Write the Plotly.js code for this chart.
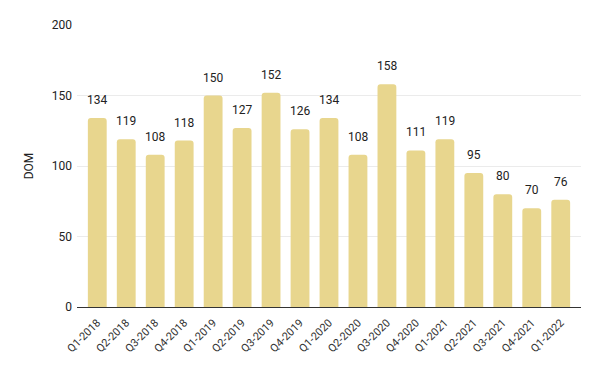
<!DOCTYPE html>
<html>
<head>
<meta charset="utf-8">
<script src="https://cdn.plot.ly/plotly-3.0.1.min.js"></script>
<style>html,body{margin:0;padding:0;background:#fff;}#chart{width:600px;height:371px;}</style>
</head>
<body>
<div id="chart"></div>
<script>
const quarters = ["Q1-2018","Q2-2018","Q3-2018","Q4-2018","Q1-2019","Q2-2019","Q3-2019","Q4-2019","Q1-2020","Q2-2020","Q3-2020","Q4-2020","Q1-2021","Q2-2021","Q3-2021","Q4-2021","Q1-2022"];
const dom = [134,119,108,118,150,127,152,126,134,108,158,111,119,95,80,70,76];
const yTicks = [0,50,100,150,200];

const trace = {
  type: 'bar',
  x: quarters,
  y: dom,
  marker: {color: '#E8D68E', cornerradius: 3},
  hoverinfo: 'x+y'
};

const annotations = quarters.map((q, i) => ({
  x: q, y: dom[i], text: String(dom[i]),
  showarrow: false, yanchor: 'bottom', yshift: 9,
  font: {family: 'Roboto, sans-serif', size: 12, color: '#222'}
}));

const layout = {
  width: 600, height: 371,
  margin: {l: 77, r: 19, t: 25, b: 64},
  paper_bgcolor: '#fff', plot_bgcolor: '#fff',
  bargap: 0.35,
  showlegend: false,
  font: {family: 'Roboto, sans-serif', color: '#333'},
  xaxis: {
    type: 'category',
    range: [-0.7, 16.7],
    tickangle: -45,
    tickfont: {size: 11, color: '#333'},
    ticklabelstandoff: 4,
    showgrid: false,
    showline: true, linecolor: '#333', linewidth: 1,
    ticks: '', automargin: false
  },
  yaxis: {
    range: [0, 200],
    tickvals: yTicks,
    ticktext: yTicks.map(String),
    tickfont: {size: 12, color: '#222'},
    ticklabelstandoff: 4,
    gridcolor: '#ebebeb',
    zeroline: false,
    showline: false,
    ticks: '',
    ticklen: 0,
    title: {text: 'DOM', font: {size: 12, color: '#222'}, standoff: 15},
    automargin: false
  },
  annotations: annotations
};

Plotly.newPlot('chart', [trace], layout, {displayModeBar: false, staticPlot: true});
</script>
</body>
</html>
